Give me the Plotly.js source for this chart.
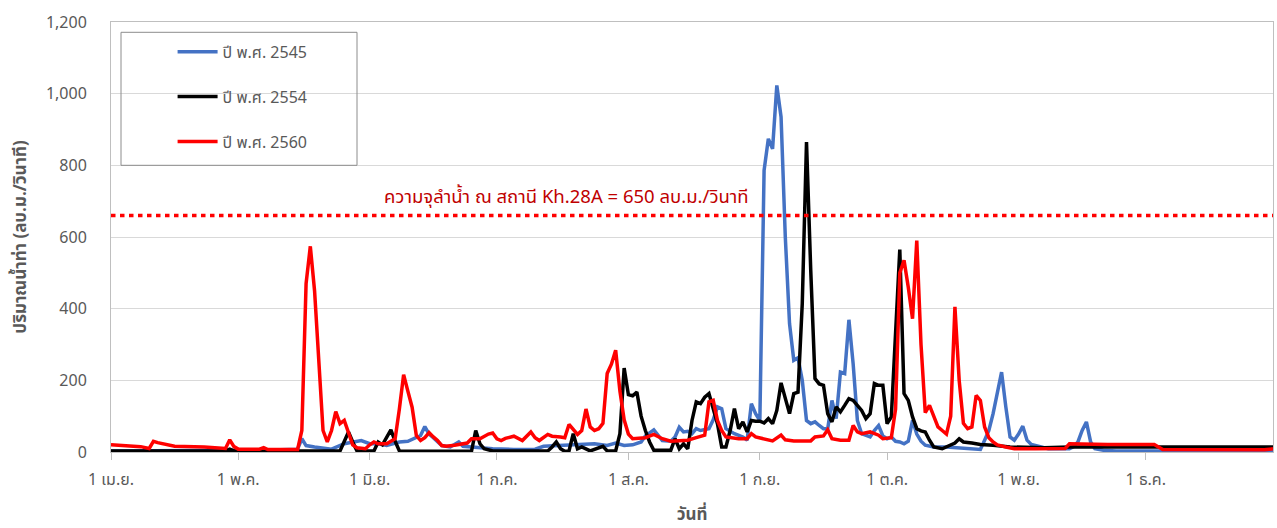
<!DOCTYPE html>
<html>
<head>
<meta charset="utf-8">
<script src="https://cdn.plot.ly/plotly-3.0.1.min.js"></script>
<style>
html,body{margin:0;padding:0;background:#fff;}
#chart{width:1277px;height:528px;}
</style>
</head>
<body>
<div id="chart"></div>
<script>
// ---- data (day offsets counted from 1 April; flow in ลบ.ม./วินาที) ----
const seriesNames = ['ปี พ.ศ. 2545', 'ปี พ.ศ. 2554', 'ปี พ.ศ. 2560'];

const days2545 = [0,10,20,30,40,44,45,46,48,52,55,57,58,59,61,63,65,67,68,70,72,73,74,75,76,77,78,80,82,83,85,88,90,95,100,102,105,108,111,114,117,119,121,123,125,126,128,129,130,132,133,134,135,136,137,138,139,141,142,143,144,145,147,149,150,151,152,153,154,155,156,157,158,159,160,161,162,163,164,165,166,167,168,169,170,171,172,173,174,175,176,177,178,179,180,181,182,183,184,185,186,187,188,189,190,191,192,194,197,200,203,205,206,207,208,209,210,211,212,213,214,215,216,217,219,221,226,227,228,229,230,231,232,234,237,245,274];
const flow2545 = [3,3,4,5,6,8,37,18,14,8,23,28,30,32,23,23,18,25,28,30,40,46,71,50,40,30,18,14,28,16,14,12,9,7,8,16,18,21,23,23,18,25,18,20,28,45,62,46,32,30,42,69,56,58,51,65,60,65,90,126,121,65,51,42,33,135,107,88,786,874,846,1023,935,600,358,256,263,200,88,79,84,74,65,65,144,93,223,219,369,246,88,51,46,42,60,74,45,37,42,30,28,23,30,88,50,30,19,14,14,11,9,7,33,60,107,170,223,126,42,33,50,72,33,21,16,9,9,15,28,60,84,28,9,5,3,3,3];

const days2554 = [0,27,28,29,54,55,56,57,58,62,63,64,65,66,67,68,85,86,87,88,90,103,104,105,106,107,108,109,110,111,113,115,116,117,119,120,121,122,123,124,125,126,127,128,132,133,134,135,136,137,138,139,140,141,142,143,144,145,146,147,148,149,150,151,152,153,154,155,156,157,158,159,160,161,162,163,164,165,166,167,168,169,170,171,172,173,174,175,176,177,178,179,180,181,182,183,184,185,186,187,188,189,190,191,192,193,194,196,197,199,200,201,203,205,208,212,220,226,274];
const flow2554 = [3,3,8,3,3,30,56,28,3,3,28,20,40,62,30,3,2,60,23,9,3,3,14,28,9,2,3,51,9,14,3,10,16,3,3,51,234,160,157,167,100,60,28,5,5,37,9,23,9,88,140,135,153,163,120,79,14,14,60,121,65,84,56,88,86,86,81,93,79,116,193,153,107,163,167,414,865,507,205,190,186,107,84,126,112,130,149,144,130,116,93,107,191,186,186,79,98,358,565,163,144,98,65,59,56,33,14,9,14,25,37,28,25,21,19,14,12,14,14];

const days2560 = [0,4,7,9,10,11,12,15,22,27,28,29,30,35,36,37,44,45,46,47,48,49,50,51,52,53,54,55,56,57,58,60,61,62,63,65,66,67,68,69,70,71,72,73,74,75,76,77,78,79,81,84,85,87,89,90,91,92,93,95,97,99,100,101,103,104,106,107,108,110,111,112,113,114,115,116,117,118,119,120,121,122,123,126,128,130,132,134,136,138,140,141,142,143,144,145,148,150,151,152,154,156,158,159,161,165,166,168,169,170,172,174,175,176,177,179,181,182,184,185,186,187,188,189,190,191,192,193,194,195,196,197,198,199,200,201,202,203,204,205,206,207,208,209,211,213,218,222,225,226,235,246,248,272,274];
const flow2560 = [20,18,15,10,30,26,23,16,14,10,34,15,8,8,12,7,7,60,470,574,450,240,60,28,60,113,79,88,50,20,12,9,20,28,23,23,30,37,120,216,170,125,46,32,40,54,42,32,18,16,19,25,37,37,50,53,37,32,38,44,32,56,40,32,49,44,42,40,77,49,60,120,70,60,65,80,219,245,284,170,90,50,37,40,49,37,30,32,33,40,47,140,144,88,60,42,37,37,51,42,37,31,47,34,31,31,42,45,62,37,33,33,74,56,51,56,47,37,40,120,500,535,460,372,590,300,110,130,100,70,60,50,100,405,200,80,65,70,158,144,70,40,28,20,14,9,9,10,10,23,21,21,7,6,9];

const capacityLabelValue = 650;   // value written in the label
const capacityLineLevel = 660;    // level at which the dotted line is drawn in the picture
const capacityText = 'ความจุลำน้ำ ณ สถานี Kh.28A = ' + capacityLabelValue + ' ลบ.ม./วินาที';

const tickDates = ['2002-04-01','2002-05-01','2002-06-01','2002-07-01','2002-08-01','2002-09-01','2002-10-01','2002-11-01','2002-12-01'];
const tickLabels = ['1 เม.ย.','1 พ.ค.','1 มิ.ย.','1 ก.ค.','1 ส.ค.','1 ก.ย.','1 ต.ค.','1 พ.ย.','1 ธ.ค.'];
const axisStart = '2002-04-01';
const axisEnd = '2002-12-31';
const yTitle = 'ปริมาณน้ำท่า (ลบ.ม./วินาที)';
const xTitle = 'วันที่';

// ---- helpers ----
function dayToDate(d) {
  const t = new Date(Date.UTC(2002, 3, 1 + d));
  return t.toISOString().slice(0, 10);
}

const FONT = 'Tahoma, "Noto Sans Thai", "Noto Sans", "DejaVu Sans", sans-serif';
const colors = ['#4472C4', '#000000', '#FF0000'];
const allDays = [days2545, days2554, days2560];
const allFlows = [flow2545, flow2554, flow2560];

const traces = seriesNames.map((name, i) => ({
  type: 'scatter',
  mode: 'lines',
  name: name,
  legendgroup: 'g' + i,
  x: allDays[i].map(dayToDate),
  y: allFlows[i],
  line: {color: colors[i], width: 3.5},
  hoverinfo: 'x+y+name'
}));

traces.push({
  type: 'scatter',
  mode: 'lines',
  name: 'capacity',
  showlegend: false,
  x: [axisStart, axisEnd],
  y: [capacityLineLevel, capacityLineLevel],
  line: {color: '#FF0000', width: 3.5, dash: '4.5px,4.5px'},
  hoverinfo: 'skip'
});

const layout = {
  width: 1277,
  height: 528,
  margin: {l: 111, r: 4, t: 22, b: 76},
  paper_bgcolor: '#ffffff',
  plot_bgcolor: '#ffffff',
  font: {family: FONT, size: 16, color: '#595959'},
  showlegend: true,
  legend: {
    x: 0.053, xanchor: 'left',
    y: 0.970, yanchor: 'top',
    bgcolor: 'rgba(0,0,0,0)',
    borderwidth: 0,
    traceorder: 'grouped',
    tracegroupgap: 21,
    itemwidth: 40,
    font: {family: FONT, size: 16, color: '#595959'}
  },
  xaxis: {
    type: 'date',
    range: [axisStart, axisEnd],
    tickmode: 'array',
    tickvals: tickDates,
    ticktext: tickLabels,
    ticks: 'outside',
    ticklen: 7,
    tickcolor: '#bfbfbf',
    ticklabelstandoff: 6,
    showgrid: false,
    zeroline: false,
    showline: true,
    mirror: true,
    linecolor: '#bfbfbf',
    linewidth: 1,
    tickfont: {family: FONT, size: 16, color: '#595959'},
    title: {text: xTitle, standoff: 40, font: {family: FONT, size: 17, color: '#595959', weight: 'bold'}}
  },
  yaxis: {
    range: [0, 1200],
    dtick: 200,
    tickformat: ',d',
    ticks: '',
    ticklabelstandoff: 20,
    showgrid: true,
    gridcolor: '#d9d9d9',
    gridwidth: 1,
    zeroline: false,
    showline: true,
    mirror: true,
    linecolor: '#bfbfbf',
    linewidth: 1,
    tickfont: {family: FONT, size: 16, color: '#595959'},
    title: {text: yTitle, standoff: 14, font: {family: FONT, size: 17, color: '#595959', weight: 'bold'}}
  },
  shapes: [{
    type: 'rect', xref: 'paper', yref: 'paper', layer: 'above',
    x0: (121 - 111) / 1162, x1: (357 - 111) / 1162,
    y0: (451.7 - 165) / 430, y1: (451.7 - 32) / 430,
    line: {color: '#8c8c8c', width: 1},
    fillcolor: 'rgba(255,255,255,0)'
  }],
  annotations: [{
    xref: 'paper', yref: 'y',
    x: 0.3916, y: 712,
    xanchor: 'center', yanchor: 'middle',
    text: capacityText,
    showarrow: false,
    font: {family: FONT, size: 18.5, color: '#C00000'}
  }]
};

Plotly.newPlot('chart', traces, layout, {displayModeBar: false, staticPlot: true});
</script>
</body>
</html>
